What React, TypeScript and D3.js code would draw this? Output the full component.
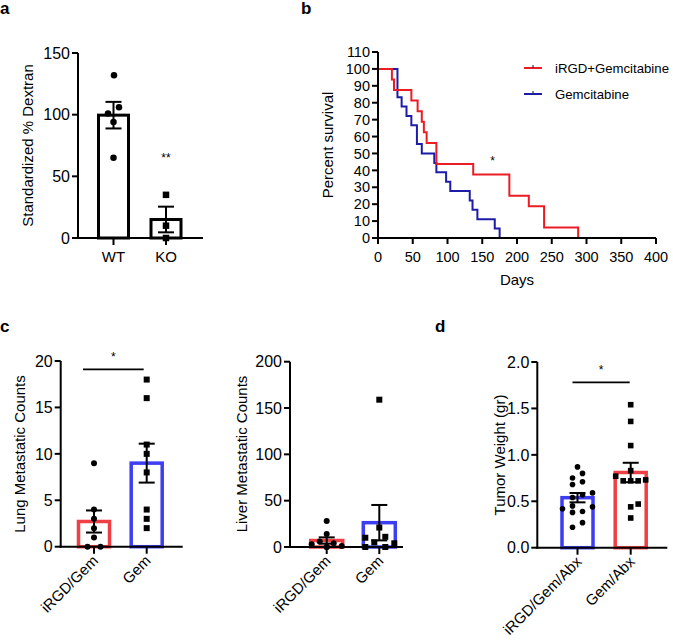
import React from "react";
import * as d3 from "d3";

const FONT = "'Liberation Sans', Arial, Helvetica, sans-serif";

// ---- panel a: dextran
const dextranGroups = ["WT", "KO"];
const dextranWT = [132, 101, 106, 94, 65];
const dextranKO = [35, 10, 0];
const dextranWTJitter = [0.5, -5.5, 5.5, 0, 0];
const dextranKOJitter = [0, 0, 0];
const dextranTicks = [0, 50, 100, 150];

// ---- panel b: survival (Kaplan-Meier steps)
const survivalNames = ["iRGD+Gemcitabine", "Gemcitabine"];
const irgdDays = [0, 20, 23, 48, 57, 63, 66, 70, 84, 137, 189, 217, 239, 288];
const irgdSurvival = [100, 93.75, 87.5, 81.25, 75, 68.75, 62.5, 56.25, 43.75, 37.5, 25, 18.75, 6.25, 0];
const gemDays = [0, 28, 34, 41, 48, 56, 63, 81, 84, 98, 104, 132, 136, 143, 168, 175];
const gemSurvival = [100, 83.3, 77.8, 72.2, 66.7, 55.6, 50, 44.4, 38.9, 33.3, 27.8, 22.2, 16.7, 11.1, 5.6, 0];
const dayTicks = [0, 50, 100, 150, 200, 250, 300, 350, 400];
const survivalTicks = [0, 10, 20, 30, 40, 50, 60, 70, 80, 90, 100, 110];

// ---- panel c: metastases
const metGroups = ["iRGD/Gem", "Gem"];
const lungIrgd = [9, 4, 3, 2, 1, 0, 0];
const lungIrgdJitter = [0, 0, 0, 0, 0, -6.5, 6.5];
const lungGem = [18, 16, 11, 10, 8, 4, 3, 2];
const lungGemJitter = [0, 0, 0, 0, 0, 0, 0, 0];
const lungTicks = [0, 5, 10, 15, 20];
const liverIrgd = [28, 14, 6, 4, 3, 1, 0, 0];
const liverIrgdJitter = [0, 0, -7, 7, -15, 15, 0, 0];
const liverGem = [159, 21, 11, 10, 5, 4, 0, 0];
const liverGemJitter = [0, 0, 6, -14, -5, 15, -14, 6];
const liverTicks = [0, 50, 100, 150, 200];

// ---- panel d: tumor weight
const weightGroups = ["iRGD/Gem/Abx", "Gem/Abx"];
const weightIrgd = [0.87, 0.8, 0.75, 0.71, 0.68, 0.59, 0.57, 0.54, 0.45, 0.44, 0.42, 0.39, 0.38, 0.27, 0.22];
const weightIrgdJitter = [0, 5, -5, 5, -5, 15, 5, -5, -5, 15, -15, 5, -5, 5, -5];
const weightGem = [1.54, 1.36, 1.1, 0.83, 0.77, 0.72, 0.72, 0.72, 0.73, 0.47, 0.44, 0.32];
const weightGemJitter = [0, 0, 0, 0, -15, -7.5, 0, 7.5, 15, 7.5, 0, 0];
const weightTicks = [0, 0.5, 1, 1.5, 2];

const RED_LINE = "#ea1c24";
const BLUE_LINE = "#1c1ca8";
const RED_BAR = "#ef3e44";
const BLUE_BAR = "#3d3df2";

const sem = (a: number[]) => (d3.deviation(a) as number) / Math.sqrt(a.length);

function YAxis({ scale, ticks, x, fmt, fs = 16 }: any) {
  const [r0, r1] = scale.range();
  const f = fmt || ((t: number) => String(t));
  return (
    <g>
      <line x1={x} x2={x} y1={r0 + 1} y2={r1} stroke="#000" strokeWidth={2} />
      {ticks.map((t: number) => (
        <g key={t}>
          <line x1={x - 6} x2={x} y1={scale(t)} y2={scale(t)} stroke="#000" strokeWidth={2} />
          <text x={x - 8} y={scale(t)} dy="0.36em" textAnchor="end" fontSize={fs}>
            {f(t)}
          </text>
        </g>
      ))}
    </g>
  );
}

function YTitle({ x, y, text, fs = 15 }: any) {
  return (
    <text transform={`translate(${x},${y}) rotate(-90)`} textAnchor="middle" dy="0.35em" fontSize={fs}>
      {text}
    </text>
  );
}

function Marker({ shape, x, y, size }: any) {
  if (shape === "square")
    return <rect x={x - size / 2} y={y - size / 2} width={size} height={size} fill="#000" />;
  return <circle cx={x} cy={y} r={size / 2} fill="#000" />;
}

function BarGroup({ cx, values, jitter, y, color, shape, barW = 31, sw = 3.5, msize = 6 }: any) {
  const m = d3.mean(values) as number;
  const s = sem(values);
  const y0 = y(0);
  return (
    <g>
      <rect x={cx - barW / 2} y={y(m)} width={barW} height={y0 - y(m)} fill="#fff" stroke={color} strokeWidth={sw} />
      {values.map((v: number, i: number) => (
        <Marker key={i} shape={shape} x={cx + jitter[i]} y={y(v)} size={msize} />
      ))}
      <line x1={cx} x2={cx} y1={y(m - s)} y2={y(m + s)} stroke="#000" strokeWidth={2} />
      <line x1={cx - 8} x2={cx + 8} y1={y(m + s)} y2={y(m + s)} stroke="#000" strokeWidth={2} />
      <line x1={cx - 8} x2={cx + 8} y1={y(m - s)} y2={y(m - s)} stroke="#000" strokeWidth={2} />
    </g>
  );
}

function CatXAxis({ x, groups, x0, x1, y0, rotate, fs = 15 }: any) {
  return (
    <g>
      <line x1={x0 - 1} x2={x1} y1={y0} y2={y0} stroke="#000" strokeWidth={2} />
      {groups.map((g: string) => (
        <g key={g}>
          <line x1={x(g)} x2={x(g)} y1={y0} y2={y0 + 7} stroke="#000" strokeWidth={2} />
          {rotate ? (
            <text transform={`translate(${x(g) + 5},${y0 + 15}) rotate(-45)`} textAnchor="end" fontSize={fs}>
              {g}
            </text>
          ) : (
            <text x={x(g)} y={y0 + 24} textAnchor="middle" fontSize={fs}>
              {g}
            </text>
          )}
        </g>
      ))}
    </g>
  );
}

function PanelA() {
  const y = d3.scaleLinear().domain([0, 150]).range([238, 53]);
  const x = d3.scalePoint().domain(dextranGroups).range([113.5, 166]);
  return (
    <g>
      <text x={0} y={14} fontSize={17} fontWeight="bold">a</text>
      <YTitle x={28} y={145.5} text="Standardized % Dextran" />
      <BarGroup cx={x("WT")} values={dextranWT} jitter={dextranWTJitter} y={y} color="#000" shape="circle" barW={30} sw={3} msize={6.5} />
      <BarGroup cx={x("KO")} values={dextranKO} jitter={dextranKOJitter} y={y} color="#000" shape="square" barW={30} sw={3} msize={6.5} />
      <YAxis scale={y} ticks={dextranTicks} x={78} />
      <CatXAxis x={x} groups={dextranGroups} x0={78} x1={203} y0={238} />
      <text x={x("KO")} y={y(62)} textAnchor="middle" fontSize={12}>**</text>
    </g>
  );
}

function PanelB() {
  const x = d3.scaleLinear().domain([0, 400]).range([378, 656]);
  const y = d3.scaleLinear().domain([0, 110]).range([238, 52]);
  const line = d3
    .line<[number, number]>()
    .x((d) => x(d[0]))
    .y((d) => y(d[1]))
    .curve(d3.curveStepAfter);
  const irgd = irgdDays.map((d, i) => [d, irgdSurvival[i]] as [number, number]);
  const gem = gemDays.map((d, i) => [d, gemSurvival[i]] as [number, number]);
  const colors = [RED_LINE, BLUE_LINE];
  return (
    <g>
      <text x={301} y={14} fontSize={17} fontWeight="bold">b</text>
      <path d={line(gem) || ""} fill="none" stroke={BLUE_LINE} strokeWidth={2} />
      <path d={line(irgd) || ""} fill="none" stroke={RED_LINE} strokeWidth={2} />
      <YAxis scale={y} ticks={survivalTicks} x={378} fs={14.5} />
      <line x1={377} x2={656} y1={238} y2={238} stroke="#000" strokeWidth={2} />
      {dayTicks.map((t) => (
        <g key={t}>
          <line x1={x(t)} x2={x(t)} y1={238} y2={244} stroke="#000" strokeWidth={2} />
          <text x={x(t)} y={262} textAnchor="middle" fontSize={14.5}>{t}</text>
        </g>
      ))}
      <text x={517} y={285} textAnchor="middle" fontSize={15}>Days</text>
      <YTitle x={328} y={145} text="Percent survival" />
      <text x={x(165)} y={y(43)} textAnchor="middle" fontSize={12}>*</text>
      {survivalNames.map((n, i) => (
        <g key={n} transform={`translate(524,${68 + i * 26})`}>
          <line x1={0} x2={18} y1={0} y2={0} stroke={colors[i]} strokeWidth={2} />
          <line x1={9} x2={9} y1={-3} y2={0} stroke="#333" strokeWidth={1.2} />
          <text x={31} y={0} dy="0.36em" fontSize={13.2}>{n}</text>
        </g>
      ))}
    </g>
  );
}

function PanelC() {
  const yL = d3.scaleLinear().domain([0, 20]).range([546.7, 361]);
  const xL = d3.scalePoint().domain(metGroups).range([94, 146.7]);
  const yV = d3.scaleLinear().domain([0, 200]).range([547, 361.7]);
  const xV = d3.scalePoint().domain(metGroups).range([326.7, 379.3]);
  const sigL = [xL("iRGD/Gem")! - 11, xL("Gem")! - 3];
  return (
    <g>
      <text x={0} y={332} fontSize={17} fontWeight="bold">c</text>
      {/* lung */}
      <YTitle x={20} y={454} text="Lung Metastatic Counts" />
      <BarGroup cx={xL("iRGD/Gem")} values={lungIrgd} jitter={lungIrgdJitter} y={yL} color={RED_BAR} shape="circle" />
      <BarGroup cx={xL("Gem")} values={lungGem} jitter={lungGemJitter} y={yL} color={BLUE_BAR} shape="square" />
      <YAxis scale={yL} ticks={lungTicks} x={60.7} />
      <CatXAxis x={xL} groups={metGroups} x0={60.7} x1={182.7} y0={546.7} rotate />
      <line x1={sigL[0]} x2={sigL[1]} y1={yL(19.1)} y2={yL(19.1)} stroke="#000" strokeWidth={1.8} />
      <text x={(sigL[0] + sigL[1]) / 2} y={yL(19.1) - 8} textAnchor="middle" fontSize={12}>*</text>
      {/* liver */}
      <YTitle x={241.7} y={454} text="Liver Metastatic Counts" />
      <BarGroup cx={xV("iRGD/Gem")} values={liverIrgd} jitter={liverIrgdJitter} y={yV} color={RED_BAR} shape="circle" barW={32} />
      <BarGroup cx={xV("Gem")} values={liverGem} jitter={liverGemJitter} y={yV} color={BLUE_BAR} shape="square" barW={32} />
      <YAxis scale={yV} ticks={liverTicks} x={290} />
      <CatXAxis x={xV} groups={metGroups} x0={290} x1={403} y0={547} rotate />
    </g>
  );
}

function PanelD() {
  const y = d3.scaleLinear().domain([0, 2]).range([547.7, 362]);
  const x = d3.scalePoint().domain(weightGroups).range([577.5, 630.7]);
  const sig = [x("iRGD/Gem/Abx")! - 5, x("Gem/Abx")! - 1];
  return (
    <g>
      <text x={435} y={332} fontSize={17} fontWeight="bold">d</text>
      <YTitle x={500} y={455} text="Tumor Weight (gr)" />
      <BarGroup cx={x("iRGD/Gem/Abx")} values={weightIrgd} jitter={weightIrgdJitter} y={y} color={BLUE_BAR} shape="circle" msize={5.6} />
      <BarGroup cx={x("Gem/Abx")} values={weightGem} jitter={weightGemJitter} y={y} color={RED_BAR} shape="square" msize={5.6} />
      <YAxis scale={y} ticks={weightTicks} x={537.3} fmt={d3.format(".1f")} />
      <CatXAxis x={x} groups={weightGroups} x0={537.3} x1={667.3} y0={547.7} rotate />
      <line x1={sig[0]} x2={sig[1]} y1={y(1.78)} y2={y(1.78)} stroke="#000" strokeWidth={1.8} />
      <text x={(sig[0] + sig[1]) / 2} y={y(1.78) - 8} textAnchor="middle" fontSize={12}>*</text>
    </g>
  );
}

export default function App() {
  return (
    <div style={{ position: "absolute", left: 0, top: 0 }}>
      <svg width={673} height={644} fontFamily={FONT} style={{ display: "block", background: "#fff" }}>
        <PanelA />
        <PanelB />
        <PanelC />
        <PanelD />
      </svg>
    </div>
  );
}
